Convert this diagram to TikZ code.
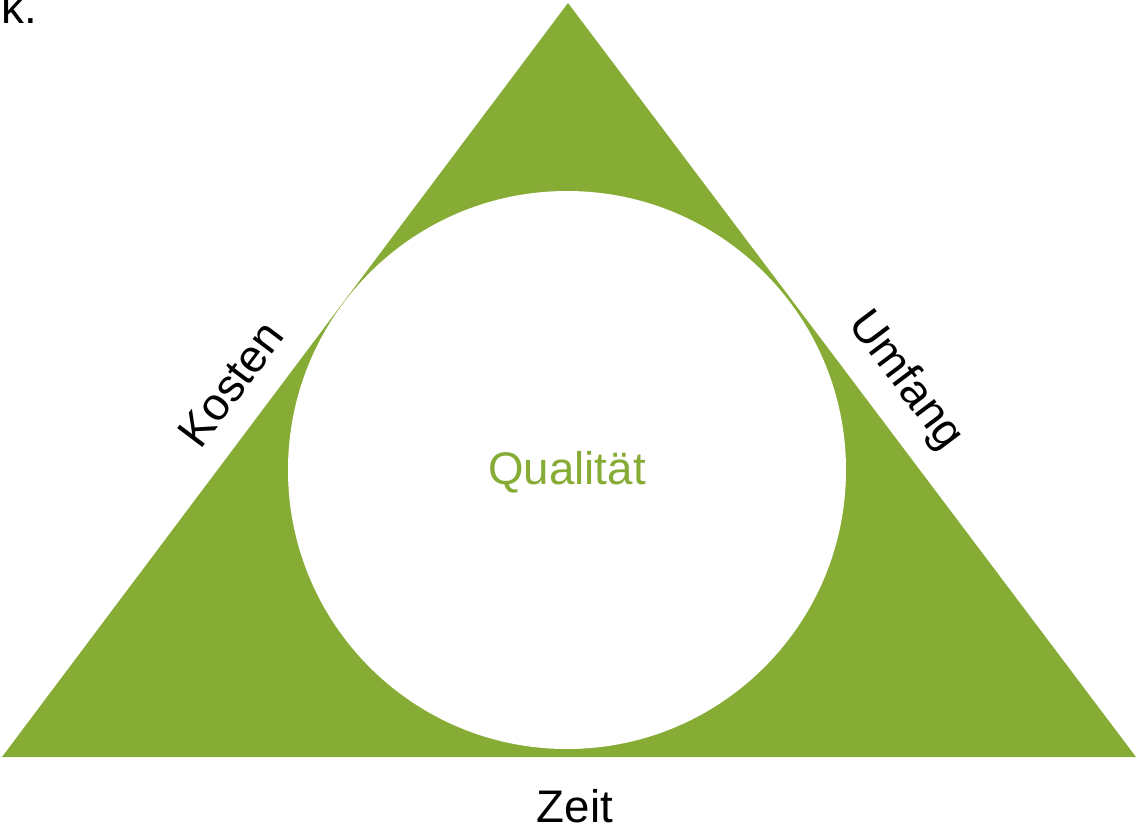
\documentclass[tikz,border=0pt]{standalone}
\usepackage{fontspec}
\setmainfont{Liberation Sans}
\definecolor{leafgreen}{RGB}{135,172,54}
\tikzset{
    edgelabel/.style={font=\fontsize{26}{30}\selectfont, inner sep=0pt},
}
\begin{document}
\begin{tikzpicture}[x=0.02cm, y=-0.02cm]
    \useasboundingbox (0,0) rectangle (1137,829);
    \clip (0,0) rectangle (1137,829);
    \fill[leafgreen] (568,3) -- (1136,757) -- (2,757) -- cycle;
    \fill[white] (567,470) circle (279);
    \node[edgelabel, text=leafgreen] (quality) at (567,472) {Qualität};
    \node[edgelabel, rotate=53] (cost) at (231,384) {Kosten};
    \node[edgelabel, rotate=-53] (scope) at (905,381) {Umfang};
    \node[edgelabel] (time) at (575,806) {Zeit};
    \node[edgelabel, anchor=base west] (cut) at (1,23) {k.};
\end{tikzpicture}
\end{document}
